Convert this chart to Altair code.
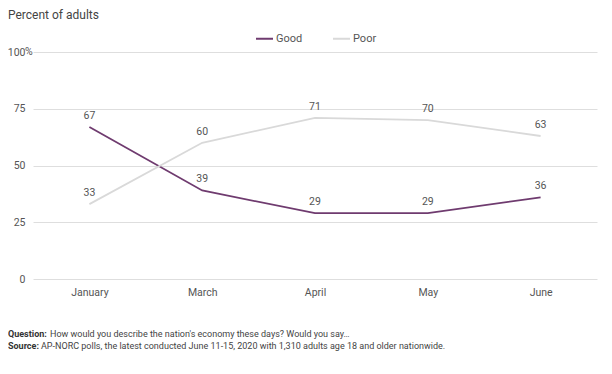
import altair as alt
import pandas as pd

months = ["January", "March", "April", "May", "June"]
good = [67, 39, 29, 29, 36]
poor = [33, 60, 71, 70, 63]
series = ["Good", "Poor"]
colors = ["#6f3b6f", "#d9d9d9"]
y_ticks = [0, 25, 50, 75, 100]

title_text = "How would you describe the nation's economy?"
subtitle_text = "Percent of adults"
q_label = "Question:"
q_text = "How would you describe the nation's economy these days? Would you say…"
s_label = "Source:"
s_text = "AP-NORC polls, the latest conducted June 11-15, 2020 with 1,310 adults age 18 and older nationwide."

rows = []
for m, g, p in zip(months, good, poor):
    rows.append({"month": m, "series": "Good", "value": g})
    rows.append({"month": m, "series": "Poor", "value": p})
df = pd.DataFrame(rows)

FONT = "Roboto"
TXT = "#555555"

x = alt.X(
    "month:N", sort=months,
    scale=alt.Scale(type="point", padding=0.5),
    axis=alt.Axis(title=None, labelAngle=0, ticks=False, domain=False, grid=False,
                  labelPadding=8, labelFontSize=10.5, labelColor=TXT, labelFont=FONT),
)
y = alt.Y(
    "value:Q",
    scale=alt.Scale(domain=[0, 100], nice=False),
    axis=alt.Axis(title=None, values=y_ticks, ticks=False, domain=False, grid=True,
                  gridColor="#dedede", gridWidth=1, labelPadding=8, labelFontSize=10.5,
                  labelColor=TXT, labelFont=FONT),
)
color = alt.Color(
    "series:N",
    scale=alt.Scale(domain=series, range=colors),
    legend=alt.Legend(title=None, orient="none", legendX=222, legendY=-23,
                      direction="horizontal", symbolType="stroke", symbolSize=289,
                      symbolStrokeWidth=2, labelFontSize=11, labelColor=TXT,
                      labelFont=FONT, columnPadding=26, labelOffset=2),
)

base = alt.Chart(df)
lines = base.mark_line(strokeWidth=1.8).encode(x=x, y=y, color=color)
labels = base.mark_text(dy=-11, fontSize=10.5, color=TXT, font=FONT).encode(
    x=alt.X("month:N", sort=months), y="value:Q", text="value:Q"
)

pct = alt.Chart(pd.DataFrame({"v": [100], "t": ["%"]})).mark_text(
    align="left", baseline="middle", fontSize=10.5, color=TXT, font=FONT
).encode(y="v:Q", x=alt.value(-8), text="t:N")


def txt(s, xv, yv, size, weight="normal", col=TXT):
    return alt.Chart(pd.DataFrame({"t": [s]})).mark_text(
        align="left", baseline="middle", fontSize=size, fontWeight=weight,
        color=col, font=FONT
    ).encode(text="t:N", x=alt.value(xv), y=alt.value(yv))


title = txt(title_text, -25, -58, 15, "bold", "#222222")
subtitle = txt(subtitle_text, -25, -37.5, 12, "normal", "#444444")
q1 = txt(q_label, -25, 282, 9, "bold", "#333333")
q2 = txt(q_text, 17, 282, 9, "normal", "#444444")
s1 = txt(s_label, -25, 293.5, 9, "bold", "#333333")
s2 = txt(s_text, 8, 293.5, 9, "normal", "#444444")

chart = alt.layer(lines, labels, pct, title, subtitle, q1, q2, s1, s2).properties(
    width=564, height=227,
    padding={"left": 25, "top": 44, "right": 7, "bottom": 87},
    autosize=alt.AutoSizeParams(type="none"),
).configure_view(stroke=None)

chart.save("out.html", embed_options={"renderer": "svg", "actions": False})
